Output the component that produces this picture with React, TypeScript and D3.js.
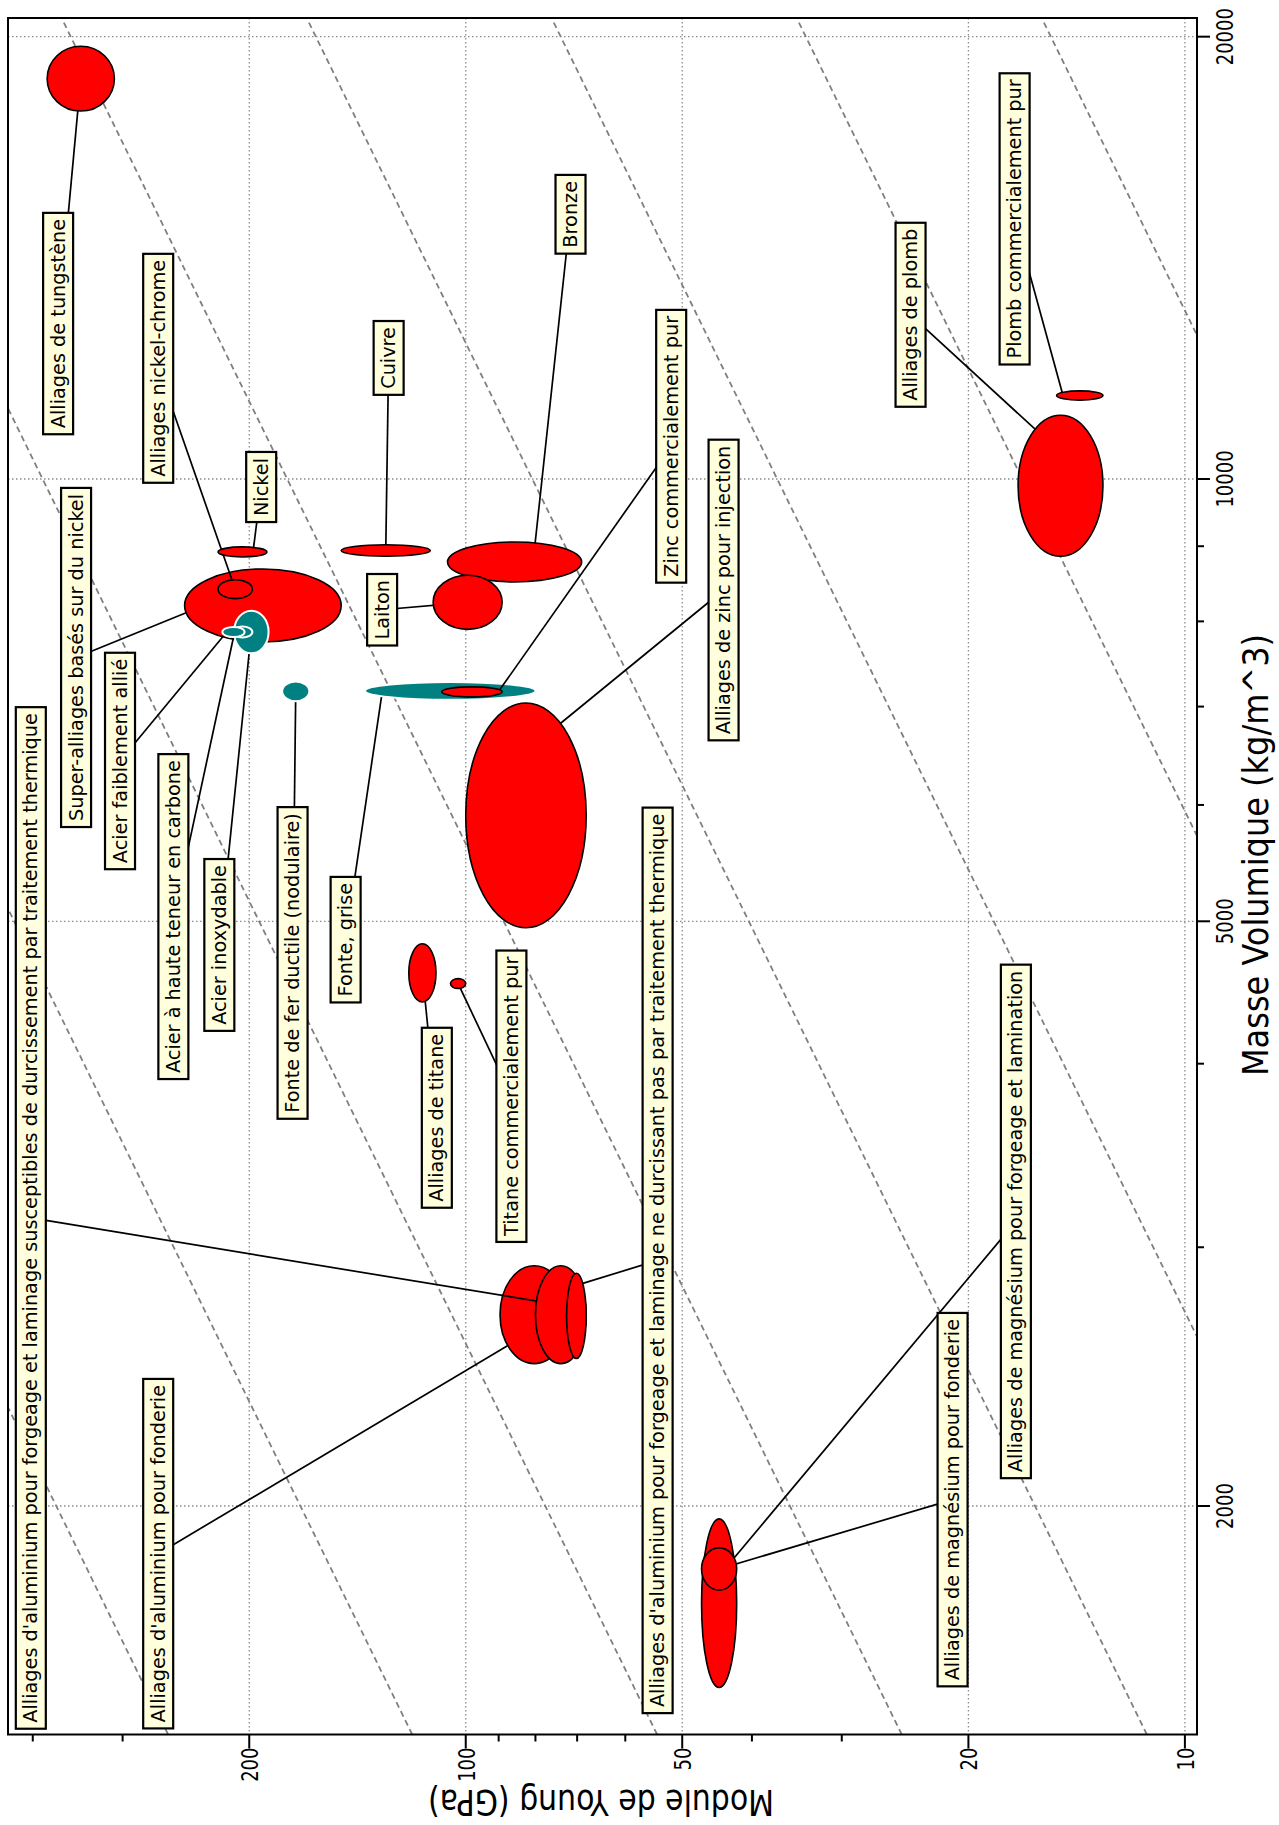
import React, { useEffect, useRef } from "react";
import * as d3 from "d3";

// Axes
const densityDomain = [1398, 20594]; // kg/m^3
const modulusDomain = [433, 9.62]; // GPa (decreasing to the right)
const densityMajorTicks = [2000, 5000, 10000, 20000];
const densityMinorTicks = [3000, 4000, 6000, 7000, 8000, 9000];
const modulusMajorTicks = [200, 100, 50, 20, 10];
const modulusMinorTicks = [400, 300, 90, 80, 70, 60, 40, 30];
// Guide lines of constant specific modulus E/rho (GPa per Mg/m^3)
const specificModulusGuides = [0.768, 1.683, 3.689, 8.08, 17.71, 38.76, 84.9, 185.5];

// Materials (drawing order)
const materialNames = [
  "Alliages de tungstène",
  "Super-alliages basés sur du nickel",
  "Alliages nickel-chrome",
  "Nickel",
  "Acier inoxydable",
  "Acier à haute teneur en carbone",
  "Acier faiblement allié",
  "Fonte de fer ductile (nodulaire)",
  "Fonte, grise",
  "Zinc commercialement pur",
  "Cuivre",
  "Bronze",
  "Laiton",
  "Alliages de zinc pour injection",
  "Alliages de titane",
  "Titane commercialement pur",
  "Alliages d'aluminium pour fonderie",
  "Alliages d'aluminium pour forgeage et laminage susceptibles de durcissement par traitement thermique",
  "Alliages d'aluminium pour forgeage et laminage ne durcissant pas par traitement thermique",
  "Alliages de magnésium pour forgeage et lamination",
  "Alliages de magnésium pour fonderie",
  "Alliages de plomb",
  "Plomb commercialement pur",
];
const materialFamily = [
  "nonferreux", "nonferreux", "nonferreux", "nonferreux",
  "ferreux", "ferreux", "ferreux", "ferreux", "ferreux",
  "nonferreux", "nonferreux", "nonferreux", "nonferreux", "nonferreux",
  "nonferreux", "nonferreux", "nonferreux", "nonferreux", "nonferreux",
  "nonferreux", "nonferreux", "nonferreux", "nonferreux",
];
const densityLow = [17800, 7745, 8290, 8850, 7610, 7800, 7806, 7060, 7075, 7107, 8860, 8510, 7900, 4950, 4406, 4500, 2500, 2500, 2520, 1505, 1753, 8860, 11315];
const densityHigh = [19700, 8685, 8540, 8990, 8135, 7935, 7930, 7280, 7275, 7220, 9020, 9060, 8600, 7040, 4827, 4570, 2914, 2914, 2880, 1960, 1873, 11050, 11480];
const modulusLow = [308, 149, 198, 189, 188, 198, 203, 165, 80, 89, 112, 69, 89, 68, 110, 100, 72, 68, 68, 42, 42, 13, 13];
const modulusHigh = [382, 246, 221, 221, 210, 211, 218, 180, 138, 108, 149, 106, 111, 100, 120, 105, 89.6, 80, 72.4, 47, 47, 17.06, 15.08];

// Annotation anchors (data space): label centre, and the point the leader aims at (null = ellipse centre)
const labelModulus = [368.8, 348.2, 267.7, 192.5, 220.1, 255, 302.5, 174.1, 146.9, 51.8, 128, 71.5, 130.7, 43.8, 109.7, 86.4, 267.7, 402.5, 54.1, 17.18, 21.04, 24.07, 17.25];
const labelDensity = [12758, 7560, 11894, 9875, 4818, 5037, 6428, 4684, 4858, 10526, 12089, 15141, 8147, 8403, 3675, 3801, 1856, 3141, 2939, 3124, 2020, 12935, 15032];
const pointerModulus: (number | null)[] = [null, 230.3, null, 197.6, null, 209.6, 215.5, null, 130.6, 90.5, null, 80.6, null, 78.8, null, null, 80.4, 73.7, 70, 44.45, null, 14.92, 14.78];
const pointerDensity: (number | null)[] = [null, 8209, null, 8920, null, 7868, 7855, null, 7175, 7141, null, 8780, null, 6643, null, null, 2635, 2740, 2827, 1792, null, 10432, 11408];

const familyColor: Record<string, string> = { ferreux: "#008080", nonferreux: "#ff0000" };
const familyStroke: Record<string, string> = { ferreux: "#ffffff", nonferreux: "#000000" };

const W = 1279;
const H = 1825;
const L = 8, T = 18, R = 1197, B = 1734.5;
const FONT = "'DejaVu Sans', Verdana, sans-serif";

export default function App() {
  const ref = useRef<SVGSVGElement>(null);

  useEffect(() => {
    const svg = d3.select(ref.current);
    svg.selectAll("*").remove();

    const x = d3.scaleLog().domain(modulusDomain).range([L, R]);
    const y = d3.scaleLog().domain(densityDomain).range([B, T]);

    svg.append("rect").attr("width", W).attr("height", H).attr("fill", "#ffffff");

    const defs = svg.append("defs");
    defs.append("clipPath").attr("id", "plotclip")
      .append("rect").attr("x", L).attr("y", T).attr("width", R - L).attr("height", B - T);

    const plot = svg.append("g").attr("clip-path", "url(#plotclip)");

    // dotted grid
    plot.selectAll("line.gx").data(modulusMajorTicks).join("line")
      .attr("x1", (d) => x(d)).attr("x2", (d) => x(d))
      .attr("y1", T).attr("y2", B)
      .attr("stroke", "#8c8c8c").attr("stroke-width", 1.3).attr("stroke-dasharray", "1.5,2.5");
    plot.selectAll("line.gy").data(densityMajorTicks).join("line")
      .attr("y1", (d) => y(d)).attr("y2", (d) => y(d))
      .attr("x1", L).attr("x2", R)
      .attr("stroke", "#8c8c8c").attr("stroke-width", 1.3).attr("stroke-dasharray", "1.5,2.5");

    // dashed guide lines E/rho = const
    const rhoEnds = densityDomain;
    plot.selectAll("line.guide").data(specificModulusGuides).join("line")
      .attr("x1", (c) => x((c * rhoEnds[0]) / 1000))
      .attr("y1", y(rhoEnds[0]))
      .attr("x2", (c) => x((c * rhoEnds[1]) / 1000))
      .attr("y2", y(rhoEnds[1]))
      .attr("stroke", "#808080").attr("stroke-width", 1.8).attr("stroke-dasharray", "6,4");

    // materials
    const mats = materialNames.map((name, i) => {
      const x1 = x(modulusLow[i]);
      const x2 = x(modulusHigh[i]);
      const y1 = y(densityLow[i]);
      const y2 = y(densityHigh[i]);
      const cx = (x1 + x2) / 2;
      const cy = (y1 + y2) / 2;
      const pm = pointerModulus[i];
      const pd = pointerDensity[i];
      return {
        name,
        fam: materialFamily[i],
        cx, cy,
        rx: Math.abs(x2 - x1) / 2,
        ry: Math.abs(y2 - y1) / 2,
        lx: x(labelModulus[i]),
        ly: y(labelDensity[i]),
        px: pm == null ? cx : x(pm),
        py: pd == null ? cy : y(pd as number),
      };
    });

    mats.forEach((m) => {
      plot.append("line")
        .attr("x1", m.lx).attr("y1", m.ly).attr("x2", m.px).attr("y2", m.py)
        .attr("stroke", "#000").attr("stroke-width", 1.7);
      plot.append("ellipse")
        .attr("cx", m.cx).attr("cy", m.cy).attr("rx", m.rx).attr("ry", m.ry)
        .attr("fill", familyColor[m.fam])
        .attr("stroke", familyStroke[m.fam])
        .attr("stroke-width", m.fam === "ferreux" ? 2 : 1.6);
    });

    // labels
    const labels = svg.append("g");
    mats.forEach((m) => {
      const g = labels.append("g");
      const rect = g.append("rect");
      const t = g.append("text")
        .attr("transform", `translate(${m.lx},${m.ly}) rotate(-90)`)
        .attr("text-anchor", "middle")
        .attr("dominant-baseline", "central")
        .attr("font-family", FONT)
        .attr("font-size", 19.3)
        .attr("fill", "#000")
        .text(m.name);
      const len = (t.node() as SVGTextElement).getComputedTextLength();
      const half = len / 2 + 6;
      rect.attr("x", m.lx - 15).attr("y", m.ly - half)
        .attr("width", 30).attr("height", 2 * half)
        .attr("fill", "#ffffdd").attr("stroke", "#000").attr("stroke-width", 2.2);
    });

    // frame
    svg.append("rect").attr("x", L).attr("y", T).attr("width", R - L).attr("height", B - T)
      .attr("fill", "none").attr("stroke", "#000").attr("stroke-width", 2);

    // modulus ticks (bottom)
    svg.selectAll("line.mt").data(modulusMajorTicks).join("line")
      .attr("x1", (d) => x(d)).attr("x2", (d) => x(d)).attr("y1", B).attr("y2", B + 14)
      .attr("stroke", "#000").attr("stroke-width", 2);
    svg.selectAll("line.mmt").data(modulusMinorTicks).join("line")
      .attr("x1", (d) => x(d)).attr("x2", (d) => x(d)).attr("y1", B).attr("y2", B + 7)
      .attr("stroke", "#000").attr("stroke-width", 2);
    svg.selectAll("text.ml").data(modulusMajorTicks).join("text")
      .attr("transform", (d) => `translate(${x(d) + 9},${B + 13}) rotate(-90) scale(0.8,1)`)
      .attr("text-anchor", "end")
      .attr("font-family", FONT).attr("font-size", 22.5).attr("fill", "#000")
      .text((d) => String(d));

    // density ticks (right)
    svg.selectAll("line.dt").data(densityMajorTicks).join("line")
      .attr("y1", (d) => y(d)).attr("y2", (d) => y(d)).attr("x1", R).attr("x2", R + 13)
      .attr("stroke", "#000").attr("stroke-width", 2);
    svg.selectAll("line.dmt").data(densityMinorTicks).join("line")
      .attr("y1", (d) => y(d)).attr("y2", (d) => y(d)).attr("x1", R).attr("x2", R + 7)
      .attr("stroke", "#000").attr("stroke-width", 2);
    svg.selectAll("text.dl").data(densityMajorTicks).join("text")
      .attr("transform", (d) => `translate(${R + 36},${y(d)}) rotate(-90) scale(0.8,1)`)
      .attr("text-anchor", "middle")
      .attr("font-family", FONT).attr("font-size", 22.5).attr("fill", "#000")
      .text((d) => String(d));

    // axis titles
    svg.append("text")
      .attr("transform", `translate(1268,855) rotate(-90)`)
      .attr("text-anchor", "middle")
      .attr("font-family", FONT).attr("font-size", 35)
      .attr("textLength", 442).attr("lengthAdjust", "spacingAndGlyphs")
      .attr("fill", "#000")
      .text("Masse Volumique (kg/m^3)");
    svg.append("text")
      .attr("transform", `translate(601,1790) rotate(180)`)
      .attr("text-anchor", "middle")
      .attr("font-family", FONT).attr("font-size", 35)
      .attr("textLength", 346).attr("lengthAdjust", "spacingAndGlyphs")
      .attr("fill", "#000")
      .text("Module de Young (GPa)");
  }, []);

  return (
    <svg
      ref={ref}
      width={W}
      height={H}
      style={{ position: "absolute", left: 0, top: 0, display: "block" }}
    />
  );
}
